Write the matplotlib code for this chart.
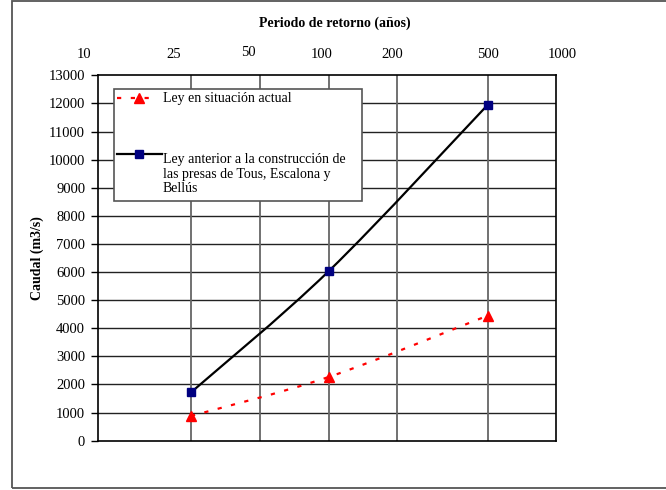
import numpy as np
import matplotlib
matplotlib.use("Agg")
import matplotlib.pyplot as plt
from matplotlib.path import Path
from matplotlib.patches import PathPatch, Rectangle
from matplotlib.lines import Line2D

plt.rcParams['font.family'] = ['Liberation Serif', 'DejaVu Serif']

# ---- data ----
periods = [25, 100, 500]                       # return period (years)
q_actual = [880, 2270, 4450]                   # Ley en situación actual
q_before = [1720, 6040, 11950]                 # Ley anterior a las presas
top_ticks = [10, 25, 50, 100, 200, 500, 1000]
grid_periods = [25, 50, 100, 200, 500]
y_ticks = list(range(0, 13001, 1000))

label_actual = "Ley en situación actual"
label_before = ("Ley anterior a la construcción de\n"
                "las presas de Tous, Escalona y\nBellús")

W, H = 666, 490
fig = plt.figure(figsize=(W / 100, H / 100), dpi=100)

def fx(x):
    return x / W

def fy(y):
    return 1 - y / H

def gumbel(T):
    T = np.asarray(T, dtype=float)
    return -np.log(-np.log(1 - 1 / T))

def gumbel_inv(u):
    u = np.asarray(u, dtype=float)
    return 1 / (1 - np.exp(-np.exp(-u)))

# outer frame
fig.add_artist(Rectangle((fx(12), fy(488)), fx(700) - fx(12), fy(1) - fy(488),
                         transform=fig.transFigure, fill=False,
                         edgecolor='#555555', lw=1.3))

L, R, T_, B = 97.7, 556, 75.3, 440.7
ax = fig.add_axes([fx(L), fy(B), fx(R) - fx(L), fy(T_) - fy(B)])
ax.set_xscale('function', functions=(gumbel, gumbel_inv))
ax.set_xlim(10, 1000)
ax.set_ylim(0, 13000)

for s in ax.spines.values():
    s.set_color('black')
    s.set_linewidth(1.2)

ax.set_xticks([])
ax.set_yticks(y_ticks)
ax.tick_params(axis='y', direction='out', length=5, width=1, pad=4,
               labelsize=10.5, colors='black')

for yv in y_ticks[1:-1]:
    ax.axhline(yv, color='#222222', lw=1.0, zorder=1)
for tv in grid_periods:
    ax.axvline(tv, color='#666666', lw=1.3, zorder=1)

fig.text(fx(37), fy(258), "Caudal (m3/s)", rotation=90, ha='center', va='center',
         fontsize=10, fontweight='bold')


def smooth_path(tv, qv):
    u = gumbel(tv)
    q = np.asarray(qv, dtype=float)
    pts = np.column_stack([u, q])
    n = len(pts)
    verts = [pts[0]]
    codes = [Path.MOVETO]
    for i in range(n - 1):
        p0 = pts[i - 1] if i > 0 else pts[i]
        p1 = pts[i]
        p2 = pts[i + 1]
        p3 = pts[i + 2] if i + 2 < n else pts[i + 1]
        c1 = p1 + (p2 - p0) / 6
        c2 = p2 - (p3 - p1) / 6
        verts += [c1, c2, p2]
        codes += [Path.CURVE4] * 3
    verts = np.array(verts)
    verts[:, 0] = gumbel_inv(verts[:, 0])
    return Path(verts, codes)

ax.add_patch(PathPatch(smooth_path(periods, q_before), fill=False,
                       edgecolor='black', lw=1.6, zorder=3))
ax.add_patch(PathPatch(smooth_path(periods, q_actual), fill=False,
                       edgecolor='#ff0000', lw=1.6, zorder=3,
                       linestyle=(0, (1.9, 4.3))))
ax.plot(periods, q_before, linestyle='none', marker='s', markersize=5.2,
        color='#000080', zorder=4)
ax.plot(periods, q_actual, linestyle='none', marker='^', markersize=6.5,
        color='#ff0000', zorder=4)

# top axis labels (placed as in the original text boxes)
top_label_x = [84, 174, 248, 322, 392, 488, 562]
top_label_y = [55, 55, 52, 55, 55, 55, 55]
for lab, xp, yp in zip(top_ticks, top_label_x, top_label_y):
    fig.text(fx(xp), fy(yp), str(lab), ha='center', va='center', fontsize=10.5)
fig.text(fx(335), fy(23), "Periodo de retorno (años)", ha='center', va='center',
         fontsize=10, fontweight='bold')

# legend
fig.add_artist(Rectangle((fx(114), fy(200.7)), fx(362) - fx(114), fy(89) - fy(200.7),
                         transform=fig.transFigure, facecolor='white',
                         edgecolor='#555555', lw=1.2, zorder=5))
fig.add_artist(Line2D([fx(117), fx(155)], [fy(98), fy(98)], color='#ff0000', lw=1.6,
                      linestyle=(0, (1.9, 4.3)), transform=fig.transFigure, zorder=6))
fig.add_artist(Line2D([fx(139)], [fy(98)], color='#ff0000', marker='^', markersize=6.5,
                      linestyle='none', transform=fig.transFigure, zorder=7))
fig.add_artist(Line2D([fx(117), fx(162)], [fy(154), fy(154)], color='black', lw=1.6,
                      transform=fig.transFigure, zorder=6))
fig.add_artist(Line2D([fx(139)], [fy(154)], color='#000080', marker='s', markersize=5.2,
                      linestyle='none', transform=fig.transFigure, zorder=7))
t1 = fig.text(fx(163), fy(98.5), label_actual, ha='left', va='center', fontsize=10)
t1.set_zorder(8)
t2 = fig.text(fx(163), fy(153.5), label_before, ha='left', va='top', fontsize=10,
              linespacing=1.15)
t2.set_zorder(8)

fig.savefig("out.png", dpi=100)
